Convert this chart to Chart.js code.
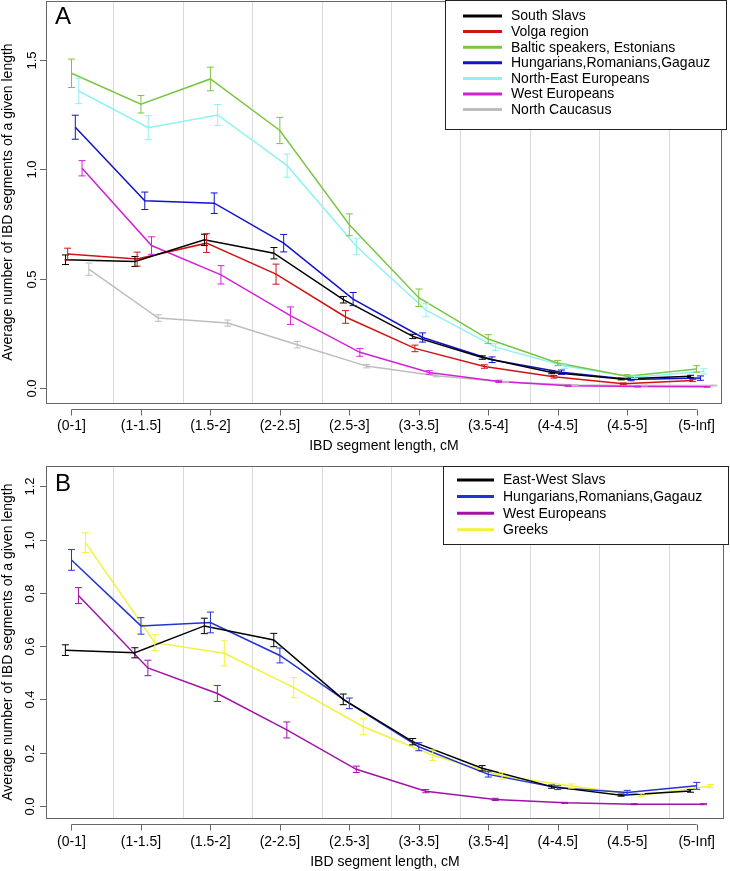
<!DOCTYPE html>
<html>
<head>
<meta charset="utf-8">
<script src="https://cdn.jsdelivr.net/npm/chart.js@4.4.0/dist/chart.umd.min.js"></script>
<style>
  html, body { margin: 0; padding: 0; background: #fff; }
  .panel { position: absolute; left: 0; width: 730px; }
  #wrapA { top: 0; height: 455px; }
  #wrapB { top: 455px; height: 416px; }
</style>
</head>
<body>
<div class="panel" id="wrapA"><canvas id="chartA" width="730" height="455"></canvas></div>
<div class="panel" id="wrapB"><canvas id="chartB" width="730" height="416"></canvas></div>
<script>
// length bins (x axis)
const categories = ['(0-1]', '(1-1.5]', '(1.5-2]', '(2-2.5]', '(2.5-3]', '(3-3.5]', '(3.5-4]', '(4-4.5]', '(4.5-5]', '(5-Inf]'];

// panel A: mean number of IBD segments, and error bar half-widths
const southSlavs     = [0.586, 0.578, 0.677, 0.616, 0.403, 0.235, 0.138, 0.070, 0.040, 0.052];
const southSlavsErr  = [0.022, 0.023, 0.026, 0.026, 0.015, 0.010, 0.008, 0.006, 0.004, 0.005];
const volga          = [0.612, 0.589, 0.662, 0.520, 0.324, 0.180, 0.097, 0.050, 0.018, 0.033];
const volgaErr       = [0.027, 0.032, 0.043, 0.046, 0.029, 0.015, 0.008, 0.006, 0.004, 0.005];
const baltic         = [1.440, 1.298, 1.414, 1.178, 0.746, 0.412, 0.223, 0.113, 0.053, 0.086];
const balticErr      = [0.065, 0.040, 0.054, 0.060, 0.050, 0.040, 0.020, 0.012, 0.007, 0.015];
const hungariansA    = [1.193, 0.856, 0.845, 0.662, 0.406, 0.230, 0.128, 0.071, 0.038, 0.044];
const hungariansAErr = [0.055, 0.040, 0.047, 0.040, 0.030, 0.021, 0.013, 0.010, 0.006, 0.010];
const northEast      = [1.359, 1.191, 1.249, 1.017, 0.647, 0.355, 0.186, 0.099, 0.048, 0.075];
const northEastErr   = [0.058, 0.055, 0.048, 0.053, 0.038, 0.030, 0.015, 0.010, 0.006, 0.012];
const westA          = [1.005, 0.651, 0.517, 0.330, 0.162, 0.070, 0.029, 0.009, 0.005, 0.004];
const westAErr       = [0.035, 0.040, 0.042, 0.040, 0.018, 0.008, 0.005, 0.003, 0.002, 0.002];
const caucasus       = [0.543, 0.319, 0.296, 0.197, 0.099, 0.055, 0.026, 0.012, 0.010, 0.010];
const caucasusErr    = [0.028, 0.015, 0.014, 0.015, 0.008, 0.005, 0.003, 0.002, 0.002, 0.002];

// panel B
const ewSlavs        = [0.585, 0.575, 0.676, 0.623, 0.400, 0.241, 0.141, 0.072, 0.040, 0.056];
const ewSlavsErr     = [0.020, 0.019, 0.029, 0.025, 0.020, 0.012, 0.010, 0.006, 0.004, 0.005];
const hungariansB    = [0.924, 0.676, 0.689, 0.565, 0.385, 0.222, 0.118, 0.068, 0.050, 0.075];
const hungariansBErr = [0.039, 0.031, 0.039, 0.028, 0.020, 0.015, 0.010, 0.007, 0.008, 0.013];
const westB          = [0.790, 0.518, 0.422, 0.285, 0.137, 0.055, 0.024, 0.011, 0.006, 0.006];
const westBErr       = [0.030, 0.029, 0.030, 0.030, 0.012, 0.006, 0.004, 0.002, 0.002, 0.002];
const greeks         = [0.989, 0.613, 0.573, 0.444, 0.297, 0.190, 0.112, 0.074, 0.040, 0.074];
const greeksErr      = [0.037, 0.030, 0.047, 0.038, 0.030, 0.020, 0.012, 0.008, 0.006, 0.006];

const yTicksA = [0, 0.5, 1.0, 1.5];
const yTicksB = [0, 0.2, 0.4, 0.6, 0.8, 1.0, 1.2];

const FONT = "'Liberation Sans', Arial, Helvetica, sans-serif";

// each group is drawn slightly shifted right/left of the bin centre, like the original
function series(label, values, errors, shift, color) {
    return {
        label: label,
        borderColor: color,
        backgroundColor: color,
        borderWidth: 1.5,
        pointRadius: 0,
        tension: 0,
        err: errors,
        data: values.map((v, i) => ({ x: i + shift, y: v }))
    };
}

// R-like decorations: grid, error bars, box, offset x axis, rotated y labels, legend
const rPlot = {
    id: 'rPlot',
    beforeDatasetsDraw(chart, args, opts) {
        const { ctx, chartArea: a, scales: { x } } = chart;
        ctx.save();
        ctx.strokeStyle = '#dadada';
        ctx.lineWidth = 1;
        for (let i = 0; i < categories.length - 1; i++) {
            const px = Math.round(x.getPixelForValue(i + 0.6)) + 0.5;
            ctx.beginPath();
            ctx.moveTo(px, a.top);
            ctx.lineTo(px, a.bottom);
            ctx.stroke();
        }
        ctx.restore();
    },
    afterDatasetsDraw(chart, args, opts) {
        const { ctx, chartArea: a, scales: { x, y } } = chart;
        ctx.save();

        // error bars
        chart.data.datasets.forEach(ds => {
            ctx.strokeStyle = ds.borderColor;
            ctx.lineWidth = 1;
            ds.data.forEach((p, i) => {
                const px = x.getPixelForValue(p.x);
                const top = y.getPixelForValue(p.y + ds.err[i]);
                const bot = y.getPixelForValue(p.y - ds.err[i]);
                ctx.beginPath();
                ctx.moveTo(px, top); ctx.lineTo(px, bot);
                ctx.moveTo(px - 3.5, top); ctx.lineTo(px + 3.5, top);
                ctx.moveTo(px - 3.5, bot); ctx.lineTo(px + 3.5, bot);
                ctx.stroke();
            });
        });

        // plot box
        ctx.strokeStyle = '#666';
        ctx.lineWidth = 1;
        ctx.strokeRect(Math.round(a.left) + 0.5, Math.round(a.top) + 0.5,
            Math.round(a.right - a.left) - 1, Math.round(a.bottom - a.top));

        // x axis below the box
        const ay = Math.round(a.bottom) + 6.5;
        ctx.beginPath();
        ctx.moveTo(x.getPixelForValue(0), ay);
        ctx.lineTo(x.getPixelForValue(categories.length - 1), ay);
        categories.forEach((c, i) => {
            const px = Math.round(x.getPixelForValue(i)) + 0.5;
            ctx.moveTo(px, ay);
            ctx.lineTo(px, ay + 6);
        });
        ctx.stroke();

        // y ticks and rotated labels
        ctx.fillStyle = '#000';
        ctx.font = '13px ' + FONT;
        ctx.textAlign = 'center';
        ctx.textBaseline = 'middle';
        opts.yTicks.forEach(v => {
            const py = Math.round(y.getPixelForValue(v)) + 0.5;
            ctx.beginPath();
            ctx.moveTo(a.left - 6, py);
            ctx.lineTo(a.left, py);
            ctx.stroke();
            ctx.save();
            ctx.translate(opts.yLabelX, py);
            ctx.rotate(-Math.PI / 2);
            ctx.fillText(v.toFixed(1), 0, 0);
            ctx.restore();
        });

        // panel letter
        ctx.font = '24px ' + FONT;
        ctx.textAlign = 'left';
        ctx.textBaseline = 'alphabetic';
        ctx.fillText(opts.letter, a.left + 9, opts.letterY);

        // legend
        const L = opts.legend;
        ctx.fillStyle = '#fff';
        ctx.fillRect(L.left, L.top, L.right - L.left, L.bottom - L.top);
        ctx.strokeStyle = '#222';
        ctx.strokeRect(L.left + 0.5, L.top + 0.5, L.right - L.left - 1, L.bottom - L.top - 1);
        ctx.font = '14px ' + FONT;
        ctx.textBaseline = 'middle';
        chart.data.datasets.forEach((ds, i) => {
            const ry = L.rowY + i * L.rowGap;
            ctx.strokeStyle = ds.borderColor;
            ctx.lineWidth = 3;
            ctx.beginPath();
            ctx.moveTo(L.lineX0, ry);
            ctx.lineTo(L.lineX1, ry);
            ctx.stroke();
            ctx.fillStyle = '#000';
            ctx.fillText(ds.label, L.textX, ry + 0.5);
        });
        ctx.restore();
    }
};

function makeChart(id, datasets, cfg) {
    return new Chart(document.getElementById(id), {
        type: 'line',
        data: { datasets: datasets },
        plugins: [rPlot],
        options: {
            responsive: false,
            animation: false,
            layout: { padding: { left: 0, top: cfg.padTop, right: cfg.padRight, bottom: 0 } },
            plugins: {
                legend: { display: false },
                tooltip: { enabled: false },
                rPlot: cfg.deco
            },
            scales: {
                x: {
                    type: 'linear',
                    min: -0.367,
                    max: cfg.xMax,
                    afterBuildTicks: s => { s.ticks = categories.map((c, i) => ({ value: i })); },
                    afterFit: s => { s.height = cfg.xHeight; },
                    grid: { display: false, drawTicks: false },
                    border: { display: false },
                    ticks: {
                        autoSkip: false,
                        maxRotation: 0,
                        padding: 15,
                        color: '#000',
                        font: { family: FONT, size: 14 },
                        callback: v => categories[v]
                    },
                    title: {
                        display: true,
                        text: 'IBD segment length, cM',
                        color: '#000',
                        font: { family: FONT, size: 14 },
                        padding: { top: 0, bottom: 0 }
                    }
                },
                y: {
                    min: cfg.yMin,
                    max: cfg.yMax,
                    afterFit: s => { s.width = 46; },
                    grid: { display: false, drawTicks: false },
                    border: { display: false },
                    ticks: { display: false },
                    title: {
                        display: true,
                        text: 'Average number of IBD segments of a given length',
                        color: '#000',
                        font: { family: FONT, size: 14, lineHeight: 1.1 },
                        padding: { top: 0, bottom: 0 }
                    }
                }
            }
        }
    });
}

makeChart('chartA', [
    series('South Slavs', southSlavs, southSlavsErr, -0.086, '#000000'),
    series('Volga region', volga, volgaErr, -0.055, '#d01414'),
    series('Baltic speakers, Estonians', baltic, balticErr, 0, '#7ac542'),
    series('Hungarians,Romanians,Gagauz', hungariansA, hungariansAErr, 0.055, '#1212cc'),
    series('North-East Europeans', northEast, northEastErr, 0.105, '#8ef2f2'),
    series('West Europeans', westA, westAErr, 0.152, '#d322d6'),
    series('North Caucasus', caucasus, caucasusErr, 0.25, '#bdbdbd')
], {
    padTop: 1, padRight: 3, xHeight: 52, xMax: 9.362, yMin: -0.070, yMax: 1.771,
    deco: {
        yTicks: yTicksA, yLabelX: 32, letter: 'A', letterY: 24,
        legend: { left: 445, top: 0, right: 727, bottom: 130, lineX0: 463, lineX1: 502, textX: 511, rowY: 16, rowGap: 15.6 }
    }
});

makeChart('chartB', [
    series('East-West Slavs', ewSlavs, ewSlavsErr, -0.088, '#000000'),
    series('Hungarians,Romanians,Gagauz', hungariansB, hungariansBErr, 0, '#2233d4'),
    series('West Europeans', westB, westBErr, 0.1, '#a312a8'),
    series('Greeks', greeks, greeksErr, 0.2, '#f2f23c')
], {
    padTop: 11, padRight: 1, xHeight: 52.7, xMax: 9.39, yMin: -0.047, yMax: 1.277,
    deco: {
        yTicks: yTicksB, yLabelX: 30.5, letter: 'B', letterY: 36,
        legend: { left: 443, top: 11, right: 729, bottom: 90, lineX0: 457, lineX1: 494, textX: 503, rowY: 25, rowGap: 16.6 }
    }
});
</script>
</body>
</html>
